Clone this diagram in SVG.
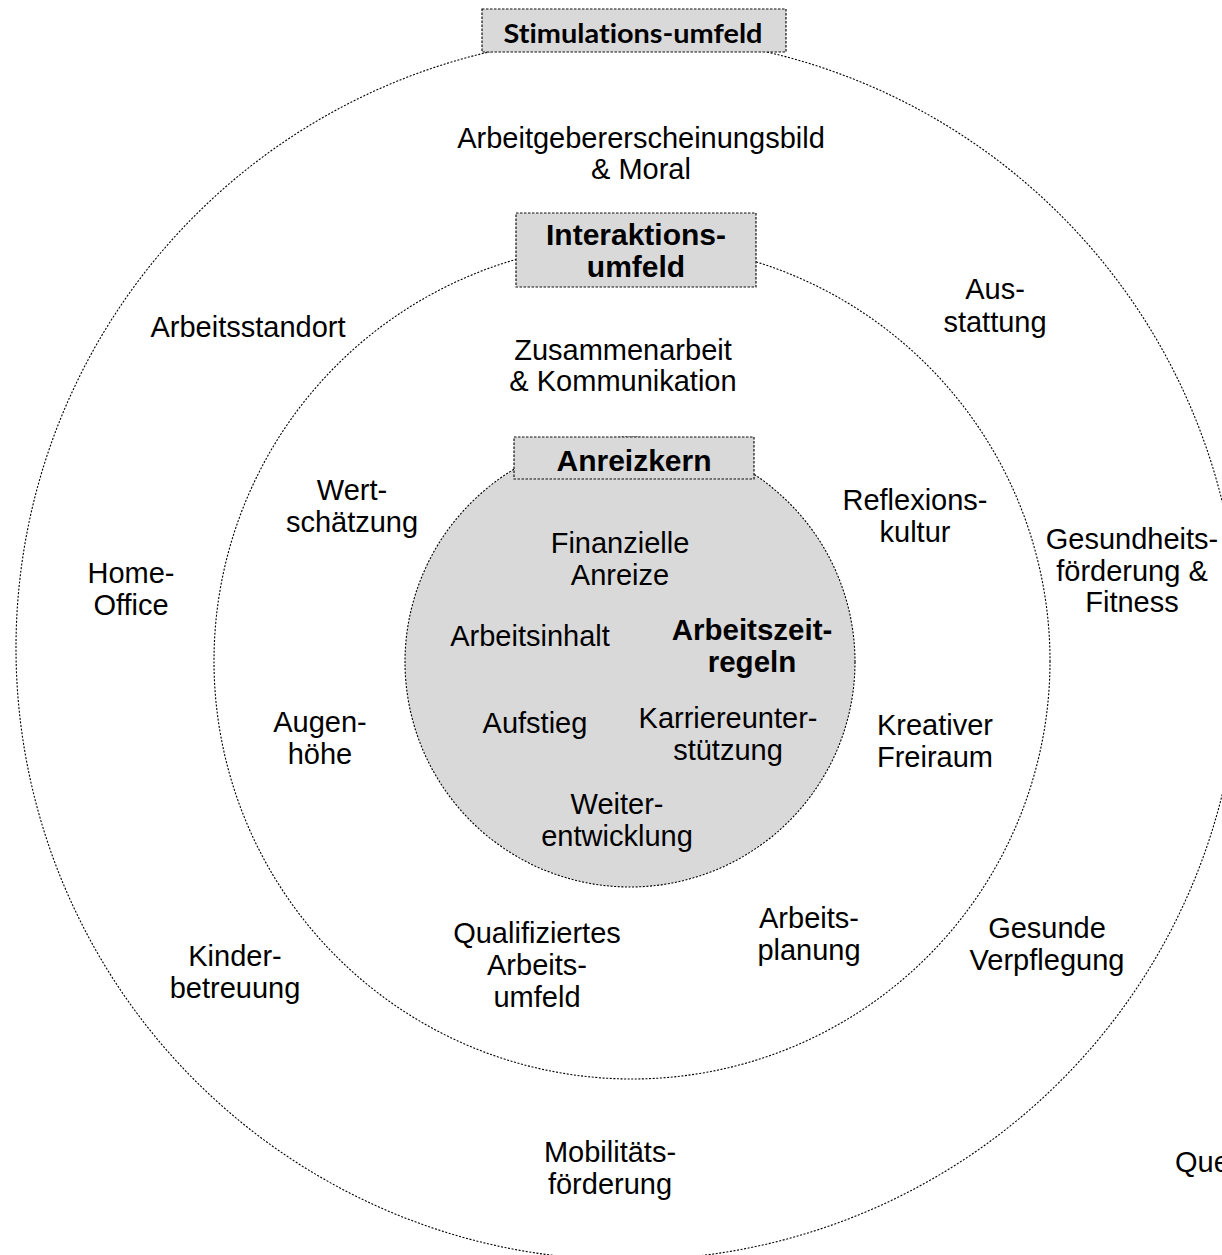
<svg xmlns="http://www.w3.org/2000/svg" width="1222" height="1255" viewBox="0 0 1222 1255">
<style>
.ring{fill:none;stroke:#000;stroke-width:1.1;stroke-dasharray:2 1.6}
.core{fill:#d9d9d9;stroke:#000;stroke-width:1.1;stroke-dasharray:2 1.6}
.box{fill:#d9d9d9;stroke:#111;stroke-width:1.2;stroke-dasharray:2.5 1.5}
text{font-family:"Liberation Sans",Arial,sans-serif;font-size:29px;fill:#000;text-anchor:middle}
.b{font-weight:bold;font-size:30px}
.cal{font-family:Lato,"Open Sans",sans-serif;font-weight:bold;font-size:27px;font-variant-ligatures:none}
</style>
<rect width="1222" height="1255" fill="#fff"/>
<g id="rings">
<circle id="outer-ring" class="ring" cx="628" cy="648" r="612"/>
<circle id="middle-ring" class="ring" cx="632" cy="661" r="418"/>
<circle id="inner-core" class="core" cx="630" cy="662" r="225"/>
</g>
<g id="connectors"></g>
<g id="stimulationsumfeld">
<rect class="box" x="482" y="9" width="304" height="43"/>
<text class="cal" x="633" y="43" textLength="259" lengthAdjust="spacingAndGlyphs">Stimulations-umfeld</text>
</g>
<g id="interaktionsumfeld">
<rect class="box" x="516" y="213" width="240" height="74"/>
<text class="b" x="636" y="245">Interaktions-</text>
<text class="b" x="636" y="277">umfeld</text>
</g>
<g id="anreizkern">
<rect class="box" x="514" y="437" width="240" height="42"/>
<text class="b" x="634" y="471">Anreizkern</text>
</g>
<g id="arbeitgeber"><text x="641" y="148">Arbeitgebererscheinungsbild</text><text x="641" y="179">&amp; Moral</text></g>
<g id="arbeitsstandort"><text x="248" y="337">Arbeitsstandort</text></g>
<g id="ausstattung"><text x="995" y="299">Aus-</text><text x="995" y="332">stattung</text></g>
<g id="zusammenarbeit"><text x="623" y="360">Zusammenarbeit</text><text x="623" y="391">&amp; Kommunikation</text></g>
<g id="wertschaetzung"><text x="352" y="500">Wert-</text><text x="352" y="532">schätzung</text></g>
<g id="reflexionskultur"><text x="915" y="510">Reflexions-</text><text x="915" y="542">kultur</text></g>
<g id="finanzielle"><text x="620" y="553">Finanzielle</text><text x="620" y="585">Anreize</text></g>
<g id="gesundheit"><text x="1132" y="549">Gesundheits-</text><text x="1132" y="581">förderung &amp;</text><text x="1132" y="612">Fitness</text></g>
<g id="homeoffice"><text x="131" y="583">Home-</text><text x="131" y="615">Office</text></g>
<g id="arbeitsinhalt"><text x="530" y="646">Arbeitsinhalt</text></g>
<g id="arbeitszeit"><text class="b" x="752" y="640" style="font-size:29.5px">Arbeitszeit-</text><text class="b" x="752" y="672" style="font-size:29.5px">regeln</text></g>
<g id="augenhoehe"><text x="320" y="732">Augen-</text><text x="320" y="764">höhe</text></g>
<g id="aufstieg"><text x="535" y="733">Aufstieg</text></g>
<g id="karriere"><text x="728" y="728">Karriereunter-</text><text x="728" y="760">stützung</text></g>
<g id="kreativ"><text x="935" y="735">Kreativer</text><text x="935" y="767">Freiraum</text></g>
<g id="weiter"><text x="617" y="814">Weiter-</text><text x="617" y="846">entwicklung</text></g>
<g id="qualifiziert"><text x="537" y="943">Qualifiziertes</text><text x="537" y="975">Arbeits-</text><text x="537" y="1007">umfeld</text></g>
<g id="planung"><text x="809" y="928">Arbeits-</text><text x="809" y="960">planung</text></g>
<g id="verpflegung"><text x="1047" y="938">Gesunde</text><text x="1047" y="970">Verpflegung</text></g>
<g id="kinder"><text x="235" y="966">Kinder-</text><text x="235" y="998">betreuung</text></g>
<g id="mobilitaet"><text x="610" y="1162">Mobilitäts-</text><text x="610" y="1194">förderung</text></g>
<g id="quelle"><text x="1175" y="1172" style="text-anchor:start">Que</text></g>
</svg>
